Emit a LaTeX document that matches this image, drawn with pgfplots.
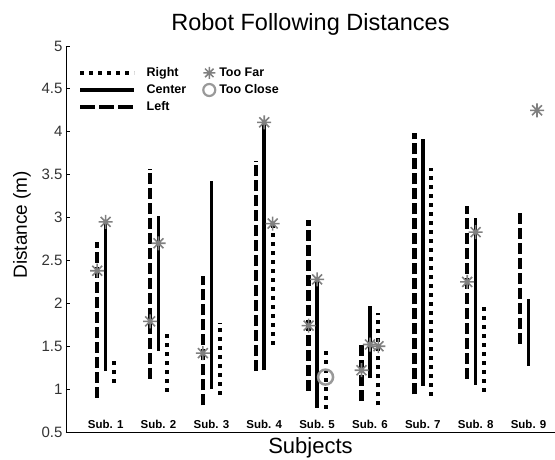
\documentclass[border=0pt]{standalone}
\usepackage{fontspec}
\setmainfont{Liberation Sans}
\usepackage{pgfplots}
\pgfplotsset{compat=1.18}
\definecolor{stargray}{gray}{0.5}
\definecolor{circgray}{gray}{0.6}
\pgfdeclareplotmark{ast8}{%
  \pgfpathmoveto{\pgfpoint{-\pgfplotmarksize}{0pt}}\pgfpathlineto{\pgfpoint{\pgfplotmarksize}{0pt}}%
  \pgfpathmoveto{\pgfpoint{0pt}{-\pgfplotmarksize}}\pgfpathlineto{\pgfpoint{0pt}{\pgfplotmarksize}}%
  \pgfpathmoveto{\pgfpoint{-0.707\pgfplotmarksize}{-0.707\pgfplotmarksize}}\pgfpathlineto{\pgfpoint{0.707\pgfplotmarksize}{0.707\pgfplotmarksize}}%
  \pgfpathmoveto{\pgfpoint{-0.707\pgfplotmarksize}{0.707\pgfplotmarksize}}\pgfpathlineto{\pgfpoint{0.707\pgfplotmarksize}{-0.707\pgfplotmarksize}}%
  \pgfusepathqstroke}
\tikzset{
  leftsty/.style={black, line width=4.5pt, line cap=butt, dash pattern=on 11pt off 4pt},
  centersty/.style={black, line width=3.6pt, line cap=butt, solid},
  rightsty/.style={black, line width=4pt, line cap=butt, dash pattern=on 4pt off 5pt},
}
\pgfplotsset{linelegend/.style={legend image code/.code={\draw[##1] (0pt,0pt) -- (54pt,0pt);}}}
\begin{document}
\begin{tikzpicture}
\useasboundingbox (0,0) rectangle (555pt,459pt);
\begin{axis}[
  at={(66pt,27pt)}, anchor=south west,
  scale only axis, width=489pt, height=386pt,
  xmin=0.25, xmax=9.5, ymin=0.5, ymax=5,
  axis x line*=bottom, axis y line*=left,
  axis line style={-, black, line width=0.8pt},
  xtick={1,...,9},
  xticklabels={Sub. 1,Sub. 2,Sub. 3,Sub. 4,Sub. 5,Sub. 6,Sub. 7,Sub. 8,Sub. 9},
  xtick style={draw=none},
  xticklabel style={anchor=south, font=\bfseries\fontsize{11.5}{13}\selectfont, yshift=0pt},
  ytick={0.5,1,1.5,2,2.5,3,3.5,4,4.5,5},
  yticklabel style={font=\fontsize{15}{18}\selectfont, text=black!80},
  /pgf/number format/assume math mode=true,
  tick align=inside, major tick length=4pt,
  ytick style={black, line width=0.8pt},
  title={Robot Following Distances},
  title style={at={(axis description cs:0.5,1)}, anchor=base, yshift=10pt, font=\fontsize{23.5}{27}\selectfont},
  xlabel={Subjects},
  xlabel style={at={(axis description cs:0.5,0)}, anchor=base, yshift=-21.5pt, font=\fontsize{22}{26}\selectfont},
  ylabel={Distance (m)},
  ylabel style={at={(axis description cs:-0.09,0.537)}, anchor=center, font=\fontsize{19}{22}\selectfont},
  unbounded coords=jump,
  legend columns=2,
  legend cell align=left,
  legend style={at={(axis description cs:0.0245,0.947)}, anchor=north west,
    draw=none, fill=none, inner sep=0pt, row sep=4.5pt,
    font=\bfseries\fontsize{12.5}{14}\selectfont,
    nodes={inner sep=1pt},
    /tikz/column 1/.style={column sep=9pt},
    /tikz/column 2/.style={column sep=16pt},
    /tikz/column 3/.style={column sep=3pt}},
]
% Left (dashed)
\addplot[leftsty, forget plot] coordinates {
  (0.84,0.90) (0.84,2.71) (0.84,nan)
  (1.84,1.12) (1.84,3.57) (1.84,nan)
  (2.84,0.81) (2.84,2.32) (2.84,nan)
  (3.84,1.21) (3.84,3.66) (3.84,nan)
  (4.84,0.98) (4.84,2.97) (4.84,nan)
  (5.84,0.86) (5.84,1.54) (5.84,nan)
  (6.84,0.94) (6.84,3.99) (6.84,nan)
  (7.84,1.12) (7.84,3.14) (7.84,nan)
  (8.84,1.53) (8.84,3.09)
};
% Center (solid)
\addplot[centersty, forget plot] coordinates {
  (1,1.21) (1,2.95) (1,nan)
  (2,1.45) (2,3.02) (2,nan)
  (3,1.00) (3,3.43) (3,nan)
  (4,1.22) (4,4.11) (4,nan)
  (5,0.78) (5,2.28) (5,nan)
  (6,1.13) (6,1.97) (6,nan)
  (7,1.04) (7,3.92) (7,nan)
  (8,1.05) (8,3.00) (8,nan)
  (9,1.27) (9,2.05)
};
% Right (dotted)
\addplot[rightsty, forget plot] coordinates {
  (1.16,1.07) (1.16,1.33) (1.16,nan)
  (2.16,0.97) (2.16,1.65) (2.16,nan)
  (3.16,0.93) (3.16,1.77) (3.16,nan)
  (4.16,1.52) (4.16,2.93) (4.16,nan)
  (5.16,0.77) (5.16,1.45) (5.16,nan)
  (6.16,0.81) (6.16,1.89) (6.16,nan)
  (7.16,0.92) (7.16,3.58) (7.16,nan)
  (8.16,0.97) (8.16,1.96)
};
% Too Far
\addplot[only marks, mark=ast8, mark size=7pt, stargray, line width=1.6pt, forget plot] coordinates {
  (0.84,2.38) (1,2.95) (1.84,1.79) (2,2.70) (2.84,1.42) (4,4.11) (4.16,2.93)
  (4.84,1.74) (5,2.28) (5.84,1.22) (6,1.52) (6.16,1.50) (7.84,2.25) (8,2.83) (9.16,4.25)
};
% Too Close
\addplot[only marks, mark=o, mark size=7.5pt, circgray, line width=2.5pt, forget plot] coordinates {
  (5.16,1.14)
};
% Legend
\addlegendimage{rightsty, linelegend}
\addlegendentry{Right}
\addlegendimage{only marks, mark=ast8, mark size=6pt, stargray, line width=1.5pt}
\addlegendentry{Too Far}
\addlegendimage{centersty, linelegend}
\addlegendentry{Center}
\addlegendimage{only marks, mark=o, mark size=6pt, circgray, line width=2.2pt}
\addlegendentry{Too Close}
\addlegendimage{leftsty, dash pattern=on 15pt off 4pt, linelegend}
\addlegendentry{Left}
\end{axis}
\end{tikzpicture}
\end{document}
